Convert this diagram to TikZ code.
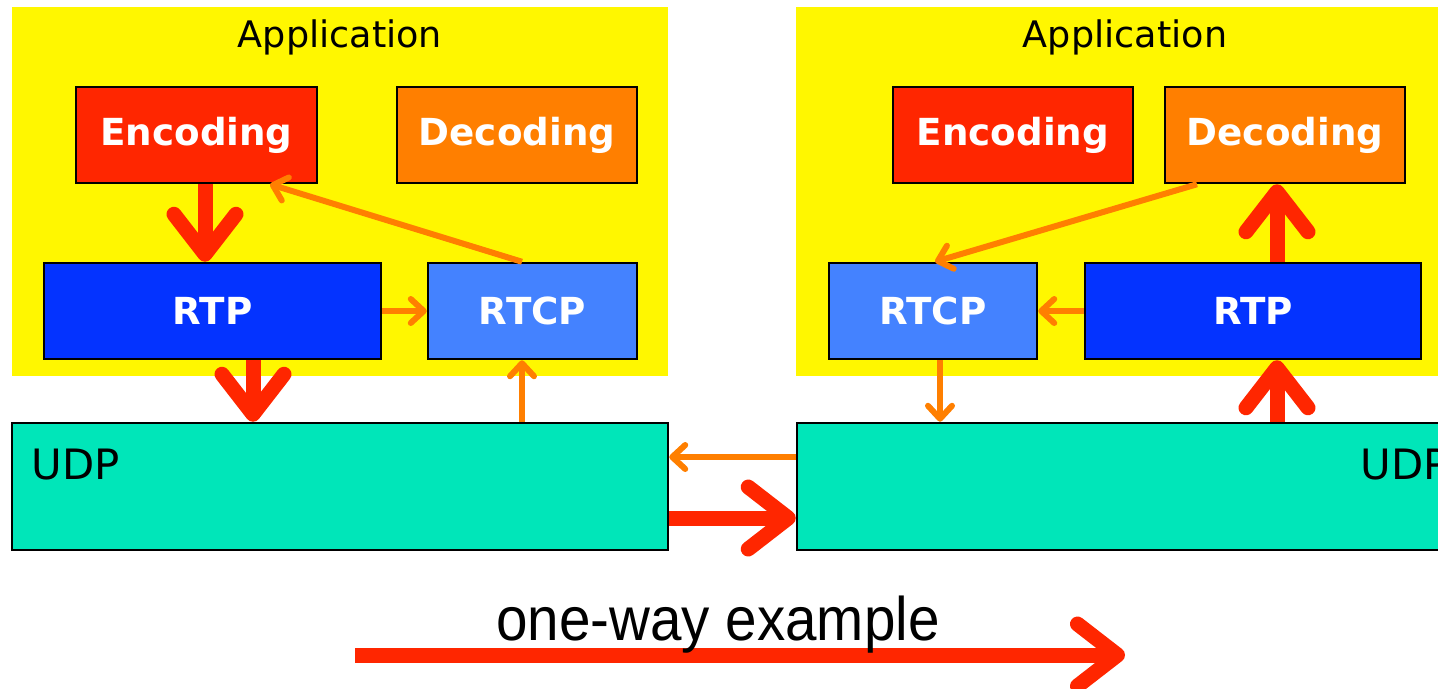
\documentclass[tikz,border=0pt]{standalone}
\usepackage{fontspec}
\setmainfont{DejaVu Sans}
\newfontfamily\onewayfont[FakeStretch=0.92]{Liberation Sans}
\usepackage{tikz}
\usetikzlibrary{arrows.meta,calc}

\definecolor{appyellow}{HTML}{FFF700}
\definecolor{encred}{HTML}{FF2600}
\definecolor{decorange}{HTML}{FF7F00}
\definecolor{rtpblue}{HTML}{0433FF}
\definecolor{rtcpblue}{HTML}{4482FF}
\definecolor{udpgreen}{HTML}{00E6B9}

\begin{document}
\begin{tikzpicture}[x=0.1mm,y=-0.1mm,
	appbox/.style={fill=appyellow,draw=none,inner sep=0pt},
	layerbox/.style={draw=black,line width=0.25mm,inner sep=0pt,minimum height=9.6mm,text=white,font=\fontsize{10.6pt}{12pt}\selectfont\bfseries},
	udpbox/.style={draw=black,line width=0.25mm,fill=udpgreen,inner sep=0pt,minimum height=12.7mm},
	applabel/.style={inner sep=0pt,font=\fontsize{10.4pt}{12pt}\selectfont},
	udplabel/.style={inner sep=0pt,anchor=west,font=\fontsize{11.9pt}{14pt}\selectfont},
	bigarrow/.style={draw=encred,line width=1.5mm,-{Straight Barb[length=4mm,width=6.2mm,round]}},
	smallarrow/.style={draw=decorange,line width=0.6mm,-{Straight Barb[length=1.3mm,width=2.4mm,round]}}]
				\clip (0,0) rectangle (1438,688);
				%\draw[color=gray,step=10, help lines,opacity=0.3] (0,0) grid (1438,688); %help grids

				% left host
				\node[appbox,minimum width=65.6mm,minimum height=36.9mm] (appL) at (340,191.5) {};
				\node[applabel] (appLtxt) at (340,37) {Application};
				\node[layerbox,fill=encred,minimum width=24.1mm] (encL) at (196.5,135) {Encoding};
				\node[layerbox,fill=decorange,minimum width=24.0mm] (decL) at (517,135) {Decoding};
				\node[layerbox,fill=rtpblue,minimum width=33.7mm] (rtpL) at (212.5,311) {RTP};
				\node[layerbox,fill=rtcpblue,minimum width=20.9mm] (rtcpL) at (532.5,311) {RTCP};
				\node[udpbox,minimum width=65.6mm] (udpL) at (340,486.5) {};
				\node[udplabel] (udpLtxt) at (31,465) {UDP};

				% right host
				\node[appbox,minimum width=66.4mm,minimum height=36.9mm] (appR) at (1128,191.5) {};
				\node[applabel] (appRtxt) at (1125,37) {Application};
				\node[layerbox,fill=encred,minimum width=24.0mm] (encR) at (1013,135) {Encoding};
				\node[layerbox,fill=decorange,minimum width=24.0mm] (decR) at (1285,135) {Decoding};
				\node[layerbox,fill=rtcpblue,minimum width=20.8mm] (rtcpR) at (933,311) {RTCP};
				\node[layerbox,fill=rtpblue,minimum width=33.6mm] (rtpR) at (1253,311) {RTP};
				\node[udpbox,minimum width=66.3mm] (udpR) at (1128.5,486.5) {};
				\node[udplabel] (udpRtxt) at (1360,465) {UDP};

				% data path
				\draw[bigarrow] (encL.south -| 205,0) -- (rtpL.north -| 205,0);
				\draw[bigarrow] (rtpL.south -| 253,0) -- (udpL.north -| 253,0);
				\draw[bigarrow] (udpL.east |- 0,518) -- (udpR.west |- 0,518);
				\draw[bigarrow] (udpR.north -| 1277,0) -- (rtpR.south -| 1277,0);
				\draw[bigarrow] (rtpR.north -| 1277,0) -- (decR.south -| 1277,0);

				% control path
				\draw[smallarrow] (rtpL.east) -- (rtcpL.west);
				\draw[smallarrow] (rtcpL.north -| 522,0) -- (encL.south -| 270,0);
				\draw[smallarrow] (udpL.north -| 522,0) -- (rtcpL.south -| 522,0);
				\draw[smallarrow] (udpR.west |- 0,457) -- (udpL.east |- 0,457);
				\draw[smallarrow] (decR.south -| 1197,0) -- (rtcpR.north -| 935,0);
				\draw[smallarrow] (rtpR.west) -- (rtcpR.east);
				\draw[smallarrow] (rtcpR.south -| 940,0) -- (udpR.north -| 940,0);

				% direction
				\coordinate (owStart) at (355,655);
				\coordinate (owEnd) at (1125,655);
				\draw[bigarrow] (owStart) -- (owEnd);
				\node[inner sep=0pt,anchor=base,font=\onewayfont\fontsize{17.5pt}{20pt}\selectfont] (owtxt) at (718,640) {one-way example};
\end{tikzpicture}
\end{document}
